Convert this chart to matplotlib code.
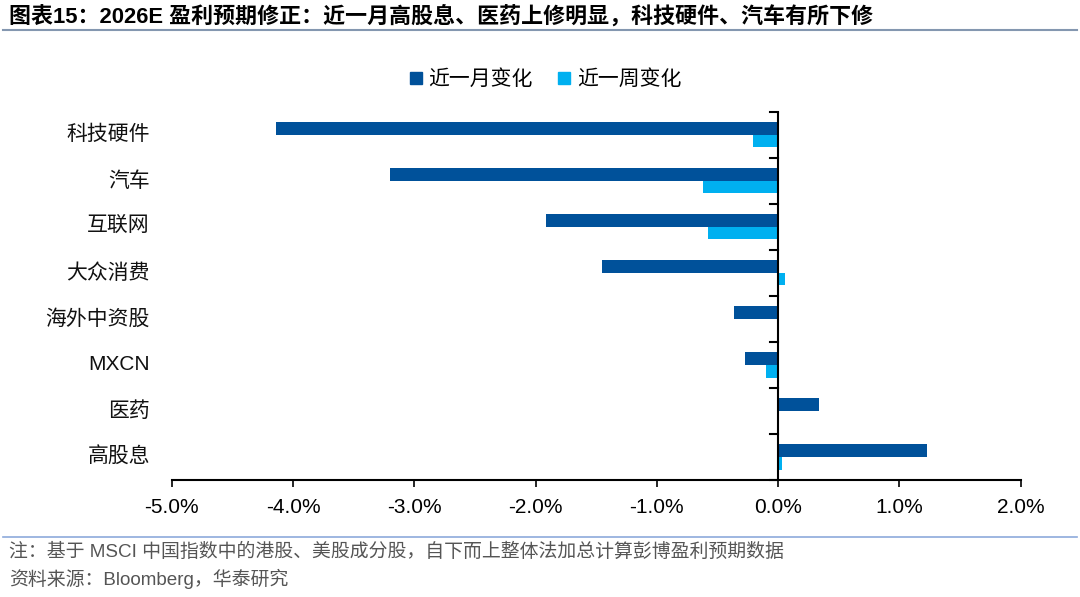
import numpy as np
import matplotlib.pyplot as plt
from matplotlib.lines import Line2D

plt.rcParams['font.family'] = ['Liberation Sans', 'Noto Sans CJK SC', 'DejaVu Sans']

# data (values in %)
categories = ["科技硬件", "汽车", "互联网", "大众消费", "海外中资股", "MXCN", "医药", "高股息"]
month_chg = [-4.14, -3.20, -1.91, -1.45, -0.36, -0.27, 0.34, 1.23]
week_chg = [-0.21, -0.62, -0.58, 0.06, -0.01, -0.10, -0.01, 0.03]
xticks = [-5, -4, -3, -2, -1, 0, 1, 2]

c_month = "#00519A"
c_week = "#00B0F0"

fig = plt.figure(figsize=(10.8, 5.97), dpi=100)
ax = fig.add_axes([0.159, 0.196, 0.786, 0.617])

y = np.arange(len(categories))
h = 0.275
ax.barh(y - h / 2, month_chg, height=h, color=c_month, label="近一月变化")
ax.barh(y + h / 2, week_chg, height=h, color=c_week, label="近一周变化")

ax.set_xlim(-5, 2)
ax.set_ylim(len(categories) - 0.5, -0.5)
ax.set_xticks(xticks)
ax.set_xticklabels([f"{v:.1f}%" for v in xticks], fontsize=15)
ax.tick_params(axis='x', length=5, width=1.2, pad=8)

# category labels on the left, y axis drawn at zero
ax.set_yticks([])
for i, c in enumerate(categories):
    ax.text(-5.18, i, c, ha='right', va='center', fontsize=15, color='#111111',
            transform=ax.transData)
for s in ['top', 'right', 'left']:
    ax.spines[s].set_visible(False)
ax.spines['bottom'].set_linewidth(1.5)
ax.axvline(0, color='black', lw=1.5, zorder=3)
for b in np.arange(-0.5, len(categories), 1):
    ax.plot([-0.07, 0], [b, b], color='black', lw=1.5, clip_on=False, zorder=3)

# legend
handles = [Line2D([], [], marker='s', ls='', color=c_month, markersize=8),
           Line2D([], [], marker='s', ls='', color=c_week, markersize=8)]
fig.legend(handles, ["近一月变化", "近一周变化"], loc='center', bbox_to_anchor=(0.505, 0.868),
           ncol=2, frameon=False, handlelength=0.6, handletextpad=0.3,
           columnspacing=1.2, prop={'family': ['Noto Sans CJK SC'], 'size': 15})

# title and notes
fig.text(0.008, 0.972, "图表15：2026E 盈利预期修正：近一月高股息、医药上修明显，科技硬件、汽车有所下修",
         fontsize=15.8, fontweight='bold', va='center', ha='left',
         family=['Liberation Sans', 'Noto Sans CJK SC'])
fig.add_artist(Line2D([0.003, 0.997], [0.949, 0.949], color='#8497B0', lw=1.5))
fig.add_artist(Line2D([0.003, 0.997], [0.1, 0.1], color='#8EAADB', lw=1.2))
fig.text(0.008, 0.075, "注：基于 MSCI 中国指数中的港股、美股成分股，自下而上整体法加总计算彭博盈利预期数据",
         fontsize=13.6, color='#555555', va='center', ha='left')
fig.text(0.008, 0.031, "资料来源：Bloomberg，华泰研究",
         fontsize=13.6, color='#555555', va='center', ha='left')

fig.savefig("out.png", dpi=100)
